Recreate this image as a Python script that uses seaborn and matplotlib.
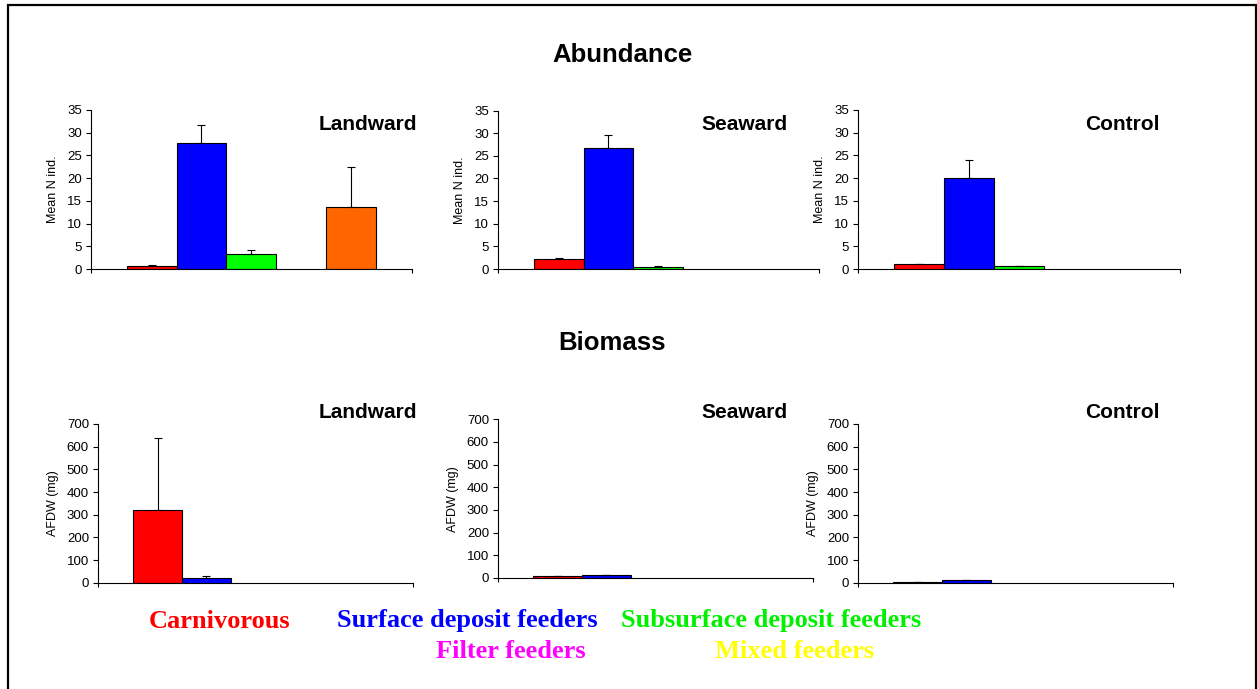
import numpy as np
import pandas as pd
import matplotlib
matplotlib.use("Agg")
import matplotlib.pyplot as plt
import seaborn as sns
from matplotlib.patches import Rectangle

# Feeding groups and their colours
categories = ["Carnivorous", "Surface deposit feeders", "Subsurface deposit feeders",
              "Filter feeders", "Mixed feeders"]
bar_colors = ["#FF0000", "#0000FF", "#00FF00", "#FF00FF", "#FF6600"]
label_colors = ["#FF0000", "#0000FF", "#00F000", "#FF00FF", "#FFFF00"]
sites = ["Landward", "Seaward", "Control"]

# Mean abundance (N ind.) and standard error per site
abund_landward = [0.7, 27.8, 3.3, np.nan, 13.6]
abund_landward_se = [0.2, 4.0, 0.9, np.nan, 8.9]
abund_seaward = [2.1, 26.8, 0.5, np.nan, np.nan]
abund_seaward_se = [0.25, 2.8, 0.15, np.nan, np.nan]
abund_control = [1.0, 20.0, 0.6, np.nan, np.nan]
abund_control_se = [0.15, 3.9, 0.15, np.nan, np.nan]

# Mean biomass, AFDW (mg), and standard error per site
biom_landward = [320, 22, np.nan, np.nan, np.nan]
biom_landward_se = [320, 6, np.nan, np.nan, np.nan]
biom_seaward = [7.5, 12, np.nan, np.nan, np.nan]
biom_seaward_se = [1.5, 3, np.nan, np.nan, np.nan]
biom_control = [1.5, 10, np.nan, np.nan, np.nan]
biom_control_se = [1.5, 4, np.nan, np.nan, np.nan]

abundance = {"Landward": (abund_landward, abund_landward_se),
             "Seaward": (abund_seaward, abund_seaward_se),
             "Control": (abund_control, abund_control_se)}
biomass = {"Landward": (biom_landward, biom_landward_se),
           "Seaward": (biom_seaward, biom_seaward_se),
           "Control": (biom_control, biom_control_se)}

sns.set_style("white")
plt.rcParams["font.family"] = ["Liberation Sans", "DejaVu Sans"]
plt.rcParams["text.color"] = "black"
plt.rcParams["axes.labelcolor"] = "black"
plt.rcParams["xtick.color"] = "black"
plt.rcParams["ytick.color"] = "black"

W, H = 1257, 689
fig = plt.figure(figsize=(W / 100, H / 100), dpi=100)


def px_axes(x0, x1, ytop, ybot):
    return fig.add_axes([x0 / W, (H - ybot) / H, (x1 - x0) / W, (ybot - ytop) / H])


def fig_xy(x, y):
    return x / W, (H - y) / H


palette = dict(zip(categories, bar_colors))


def draw_panel(ax, values, errs, ymax, ystep, ylabel, label_x):
    df = pd.DataFrame({"group": categories, "value": values, "err": errs}).dropna()
    sns.barplot(data=df, x="group", y="value", hue="group", order=categories,
                palette=palette, saturation=1, width=1.0, edgecolor="black",
                linewidth=0.8, legend=False, errorbar=None, ax=ax, zorder=2)
    pos = np.array([categories.index(g) for g in df["group"]])
    ax.errorbar(pos, df["value"], yerr=[np.zeros(len(df)), df["err"]], fmt="none",
                ecolor="black", elinewidth=0.8, capsize=3, capthick=0.8, zorder=3)
    ax.set_ylim(0, ymax)
    ax.set_yticks(np.arange(0, ymax + 1, ystep))
    ax.set_xlim(-1.22, 5.23)
    ax.set_xticks([-1.22, 5.23])
    ax.set_xticklabels([])
    ax.set_xlabel("")
    ax.set_ylabel(ylabel, fontsize=9, color="black")
    bb = ax.get_position()
    ax.yaxis.set_label_coords((label_x / W - bb.x0) / bb.width, 0.5)
    for side in ("top", "right"):
        ax.spines[side].set_visible(False)
    for side in ("left", "bottom"):
        ax.spines[side].set_color("black")
        ax.spines[side].set_linewidth(0.8)
    ax.tick_params(axis="y", direction="out", length=3.5, width=0.8, pad=3,
                   labelsize=9.5, left=True, colors="black")
    ax.tick_params(axis="x", direction="out", length=3, width=0.8, bottom=True)
    ax.patch.set_alpha(0)


# Abundance row
top_boxes = {"Landward": (91, 412, 110, 269),
             "Seaward": (498, 819, 110.5, 269),
             "Control": (858, 1180, 110, 269)}
top_ylab = {"Landward": 59, "Seaward": 466, "Control": 826}
top_name_x = {"Landward": 417, "Seaward": 788, "Control": 1160}

# Biomass row
bot_boxes = {"Landward": (98, 413, 424, 582.7),
             "Seaward": (498, 813, 419.3, 578),
             "Control": (858, 1173, 424, 582.7)}
bot_ylab = {"Landward": 59, "Seaward": 459, "Control": 819}
bot_name_x = {"Landward": 417, "Seaward": 788, "Control": 1160}

for site in sites:
    ax = px_axes(*top_boxes[site])
    vals, errs = abundance[site]
    draw_panel(ax, vals, errs, 35, 5, "Mean N ind.", top_ylab[site])
    fig.text(*fig_xy(top_name_x[site], 124), site, ha="right", va="center",
             fontsize=15, fontweight="bold", color="black")

    ax = px_axes(*bot_boxes[site])
    vals, errs = biomass[site]
    draw_panel(ax, vals, errs, 700, 100, "AFDW (mg)", bot_ylab[site])
    fig.text(*fig_xy(bot_name_x[site], 412), site, ha="right", va="center",
             fontsize=15, fontweight="bold", color="black")

fig.text(*fig_xy(622, 55), "Abundance", ha="center", va="center",
         fontsize=18.5, fontweight="bold", color="black")
fig.text(*fig_xy(612, 343), "Biomass", ha="center", va="center",
         fontsize=18.5, fontweight="bold", color="black")

# Colour key for the feeding groups
key_pos = [(149, 621), (337, 621), (621, 621), (436, 652), (715, 652)]
for name, col, (kx, ky) in zip(categories, label_colors, key_pos):
    fig.text(*fig_xy(kx, ky), name, ha="left", va="center", color=col,
             fontsize=19, fontweight="bold", family="Liberation Serif")

# Outer frame
frame = Rectangle((8 / W, -0.05), (1256 - 8) / W, (H - 5) / H + 0.05,
                  transform=fig.transFigure, fill=False, edgecolor="black",
                  linewidth=1.6, clip_on=False)
fig.add_artist(frame)

fig.savefig("out.png", dpi=100, facecolor="white")
